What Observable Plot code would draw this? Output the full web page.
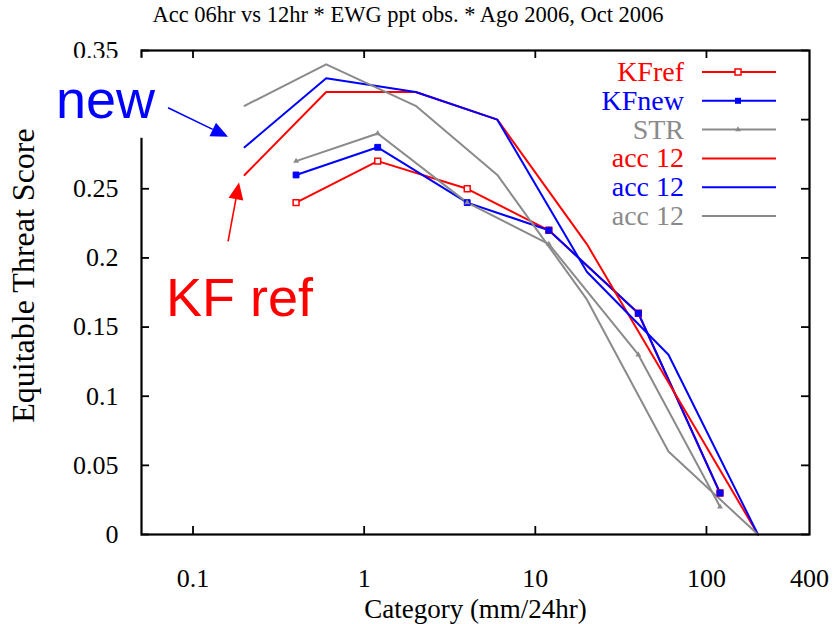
<!DOCTYPE html>
<html>
<head>
<meta charset="utf-8">
<script src="https://cdn.jsdelivr.net/npm/d3@7"></script>
<script src="https://cdn.jsdelivr.net/npm/@observablehq/plot@0.6"></script>
<style>
  html, body { margin: 0; padding: 0; background: #fff; }
  #chart svg { display: block; }
</style>
</head>
<body>
<div id="chart"></div>
<script>
// Chart texts
const titleText = "Acc 06hr vs 12hr * EWG ppt obs. * Ago 2006, Oct 2006";
const xLabel = "Category (mm/24hr)";
const yLabel = "Equitable Threat Score";
const legendLabels = ["KFref", "KFnew", "STR", "acc 12", "acc 12", "acc 12"];
const noteNew = "new";
const noteRef = "KF ref";

// Thresholds (mm/24hr) for the 6-hour and 12-hour accumulations
const cat06 = [0.4, 1.2, 4, 12, 40, 120];
const cat12 = [0.2, 0.6, 2, 6, 20, 60, 200];

// Equitable threat scores, 6-hour accumulation
const kfref06 = [0.24, 0.27, 0.25, 0.22, 0.16, 0.03];
const kfnew06 = [0.26, 0.28, 0.24, 0.22, 0.16, 0.03];
const str06   = [0.27, 0.29, 0.24, 0.21, 0.13, 0.02];

// Equitable threat scores, 12-hour accumulation
const kfref12 = [0.26, 0.32, 0.32, 0.30, 0.21, 0.11, 0];
const kfnew12 = [0.28, 0.33, 0.32, 0.30, 0.19, 0.13, 0];
const str12   = [0.31, 0.34, 0.31, 0.26, 0.17, 0.06, 0];

// Axis ticks
const xTicks = [0.1, 1, 10, 100, 400];
const yTicks = [0, 0.05, 0.1, 0.15, 0.2, 0.25, 0.3, 0.35];
// the 0.3 label sits under the "new" call-out box
const yLabelTicks = yTicks.filter(t => t !== 0.3);

// Styling
const RED = "#ff0000", BLUE = "#0000ff", GRAY = "#8a8a8a";
const SERIF = "'Liberation Serif', 'Times New Roman', serif";
const SANS = "'Liberation Sans', Arial, sans-serif";

const series = [
  {label: legendLabels[0], cats: cat06, vals: kfref06, color: RED,  marker: "openSquare"},
  {label: legendLabels[1], cats: cat06, vals: kfnew06, color: BLUE, marker: "square"},
  {label: legendLabels[2], cats: cat06, vals: str06,   color: GRAY, marker: "triangle"},
  {label: legendLabels[3], cats: cat12, vals: kfref12, color: RED,  marker: null},
  {label: legendLabels[4], cats: cat12, vals: kfnew12, color: BLUE, marker: null},
  {label: legendLabels[5], cats: cat12, vals: str12,   color: GRAY, marker: null}
];
const rowsOf = (s) => s.cats.map((c, i) => ({x: c, y: s.vals[i]}));

const W = 833, H = 624;
const M = {top: 50, right: 24, bottom: 90, left: 141};
const frameW = W - M.left - M.right;
const frameH = H - M.top - M.bottom;
const TICK = 8;
const X_MAX = xTicks[xTicks.length - 1];
const innerXTicks = xTicks.filter(t => t < X_MAX);

const lineMarks = series.map(s =>
  Plot.line(rowsOf(s), {x: "x", y: "y", stroke: s.color, strokeWidth: 2})
);

const dotMarks = series.filter(s => s.marker).map(s => {
  const data = rowsOf(s);
  if (s.marker === "openSquare")
    return Plot.dot(data, {x: "x", y: "y", symbol: "square", r: 3.3, fill: "white", stroke: s.color, strokeWidth: 1.5});
  if (s.marker === "square")
    return Plot.dot(data, {x: "x", y: "y", symbol: "square", r: 3.3, fill: s.color, stroke: s.color, strokeWidth: 1});
  return Plot.dot(data, {x: "x", y: "y", symbol: "triangle", r: 2.2, fill: s.color});
});

// Filled-head arrow
function arrow(g, x1, y1, x2, y2, color) {
  const a = Math.atan2(y2 - y1, x2 - x1), L = 17, hw = 7.5;
  const bx = x2 - L * Math.cos(a), by = y2 - L * Math.sin(a);
  g.append("line")
    .attr("x1", x1).attr("y1", y1).attr("x2", bx).attr("y2", by)
    .attr("stroke", color).attr("stroke-width", 1.6);
  g.append("path")
    .attr("d", `M${x2},${y2}L${bx - hw * Math.sin(a)},${by + hw * Math.cos(a)}L${bx + hw * Math.sin(a)},${by - hw * Math.cos(a)}Z`)
    .attr("fill", color);
}

// Legend in the top-right corner and the two call-out notes
function overlay(index, scales, values, dims) {
  const g = d3.create("svg:g");
  const right = dims.width - dims.marginRight;
  const top = dims.marginTop;

  series.forEach((s, i) => {
    const y = top + 22 + i * 28.8;
    g.append("text")
      .attr("x", right - 125).attr("y", y + 9)
      .attr("text-anchor", "end")
      .attr("font-family", SERIF).attr("font-size", 28)
      .attr("fill", s.color).text(s.label);
    g.append("line")
      .attr("x1", right - 107).attr("x2", right - 33)
      .attr("y1", y).attr("y2", y)
      .attr("stroke", s.color).attr("stroke-width", 2);
    const mx = right - 71;
    if (s.marker === "openSquare")
      g.append("rect").attr("x", mx - 3).attr("y", y - 3).attr("width", 6).attr("height", 6)
        .attr("fill", "white").attr("stroke", s.color).attr("stroke-width", 1.5);
    else if (s.marker === "square")
      g.append("rect").attr("x", mx - 3).attr("y", y - 3).attr("width", 6).attr("height", 6)
        .attr("fill", s.color);
    else if (s.marker === "triangle")
      g.append("path").attr("transform", `translate(${mx},${y})`)
        .attr("d", d3.symbol(d3.symbolTriangle, 14)()).attr("fill", s.color);
  });

  // Call-outs pointing at the first point of the 12-hour KFnew / KFref lines
  const px = scales.x(cat12[0]), pyNew = scales.y(kfnew12[0]), pyRef = scales.y(kfref12[0]);

  g.append("rect")
    .attr("x", px - 196).attr("y", pyNew - 89)
    .attr("width", 112).attr("height", 80)
    .attr("fill", "white");
  g.append("text")
    .attr("x", px - 188).attr("y", pyNew - 29)
    .attr("text-anchor", "start")
    .attr("font-family", SANS).attr("font-size", 54)
    .attr("fill", BLUE).text(noteNew);
  arrow(g, px - 76, pyNew - 39, px - 16, pyNew - 10, BLUE);

  g.append("text")
    .attr("x", px - 78).attr("y", pyRef + 142)
    .attr("text-anchor", "start")
    .attr("font-family", SANS).attr("font-size", 54)
    .attr("fill", RED).text(noteRef);
  arrow(g, px - 16, pyRef + 67, px - 5, pyRef + 8, RED);

  return g.node();
}

const chart = Plot.plot({
  width: W, height: H,
  marginTop: M.top, marginRight: M.right, marginBottom: M.bottom, marginLeft: M.left,
  style: {fontFamily: SERIF, background: "white", color: "black"},
  x: {type: "log", domain: [0.05, X_MAX]},
  y: {domain: [0, 0.35]},
  marks: [
    // inward tick marks on all four sides
    Plot.ruleX(innerXTicks, {x: d => d, insetTop: frameH - TICK, stroke: "black", strokeWidth: 1.8}),
    Plot.ruleX(innerXTicks, {x: d => d, insetBottom: frameH - TICK, stroke: "black", strokeWidth: 1.8}),
    Plot.ruleY(yTicks, {y: d => d, insetRight: frameW - TICK, stroke: "black", strokeWidth: 1.8}),
    Plot.ruleY(yTicks, {y: d => d, insetLeft: frameW - TICK, stroke: "black", strokeWidth: 1.8}),
    Plot.axisX(innerXTicks, {tickSize: 0, tickPadding: 34, fontSize: 26, tickFormat: d => String(d), label: null}),
    // label at the right end of the log axis
    Plot.text([X_MAX], {x: d => d, text: d => String(d), frameAnchor: "bottom", lineAnchor: "top", dy: 34, fontSize: 26, fill: "black"}),
    Plot.axisY(yLabelTicks, {tickSize: 0, tickPadding: 23, fontSize: 26, tickFormat: d => String(d), label: null}),
    ...lineMarks,
    ...dotMarks,
    Plot.frame({stroke: "black", strokeWidth: 2.2}),
    Plot.text([titleText], {text: d => d, frameAnchor: "top", textAnchor: "middle", dx: W / 2 - (M.left + frameW / 2) - 9, dy: -44, fontSize: 22.5, fill: "black"}),
    Plot.text([xLabel], {text: d => d, frameAnchor: "bottom", textAnchor: "middle", dy: 83, fontSize: 27, fill: "black"}),
    Plot.text([yLabel], {text: d => d, frameAnchor: "left", textAnchor: "middle", rotate: -90, dx: -118, dy: -17, fontSize: 32, fill: "black"}),
    overlay
  ]
});

document.getElementById("chart").appendChild(chart);
</script>
</body>
</html>
